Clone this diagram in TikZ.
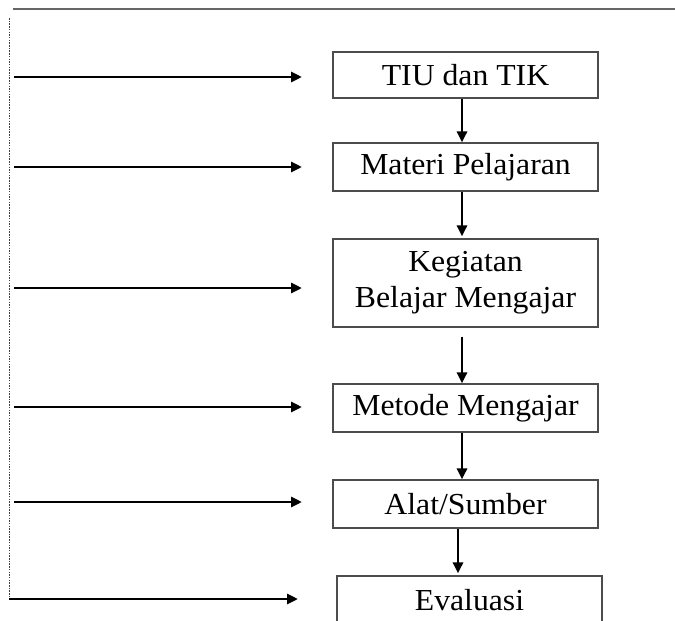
\documentclass[tikz,border=0pt]{standalone}
\usepackage{fontspec}
\setmainfont{Liberation Serif}
\usetikzlibrary{arrows.meta}
\newcommand{\hs}[1]{\scalebox{1.04}[1]{#1}}
\begin{document}
\begin{tikzpicture}[x=1pt,y=-1pt,
  stepbox/.style={draw=black!70, line width=1.2pt, rectangle, minimum width=265pt,
    inner sep=0pt, align=center, font=\fontsize{30.5}{36}\selectfont},
  flow/.style={line width=2.8pt, -{Triangle[length=11pt,width=10pt]}},
  topline/.style={draw=black!60, line width=1.6pt},
  sideline/.style={draw=black!75, line width=0.8pt, dash pattern=on 1.5pt off 1.2pt}]
\useasboundingbox (0,0) rectangle (675,621);
\clip (0,0) rectangle (675,621);

% boxes
\node[stepbox, minimum height=46pt] (b1) at (465.5,75) {\hs{TIU dan TIK}};
\node[stepbox, minimum height=48pt] (b2) at (465.5,167) {\hs{Materi Pelajaran}};
\node[stepbox, minimum height=88pt] (b3) at (465.5,283) {\hs{Kegiatan}\\\hs{Belajar Mengajar}};
\node[stepbox, minimum height=48pt] (b4) at (465.5,408) {\hs{Metode Mengajar}};
\node[stepbox, minimum height=48pt] (b5) at (465.5,504) {\hs{Alat/Sumber}};
\node[stepbox, minimum height=48pt] (b6) at (469.5,600) {\hs{Evaluasi}};

% vertical arrows
\draw[flow] ([xshift=-3.5pt]b1.south) -- ([xshift=-3.5pt]b2.north);
\draw[flow] ([xshift=-3.5pt]b2.south) -- ([xshift=-3.5pt,yshift=2pt]b3.north);
\draw[flow] ([xshift=-3.5pt,yshift=-9pt]b3.south) -- ([xshift=-3.5pt]b4.north);
\draw[flow] ([xshift=-3.5pt]b4.south) -- ([xshift=-3.5pt]b5.north);
\draw[flow] ([xshift=-7.5pt]b5.south) -- ([xshift=-11.5pt,yshift=2pt]b6.north);

% top rule and left dotted line
\coordinate (tl) at (13,9);
\coordinate (tr) at (675,9);
\draw[topline] (tl) -- (tr);
\coordinate (dtop) at (9,18);
\coordinate (dbot) at (9,599);
\draw[sideline] (dtop) -- (dbot);

% left arrows
\coordinate (s1) at (14,77);   \coordinate (e1) at (302,77);
\coordinate (s2) at (14,167);  \coordinate (e2) at (302,167);
\coordinate (s3) at (14,288);  \coordinate (e3) at (302,288);
\coordinate (s4) at (14,407);  \coordinate (e4) at (302,407);
\coordinate (s5) at (14,502);  \coordinate (e5) at (302,502);
\coordinate (e6) at (298,599);
\draw[flow] (s1) -- (e1);
\draw[flow] (s2) -- (e2);
\draw[flow] (s3) -- (e3);
\draw[flow] (s4) -- (e4);
\draw[flow] (s5) -- (e5);
\draw[flow] (dbot) -- (e6);
\end{tikzpicture}
\end{document}
